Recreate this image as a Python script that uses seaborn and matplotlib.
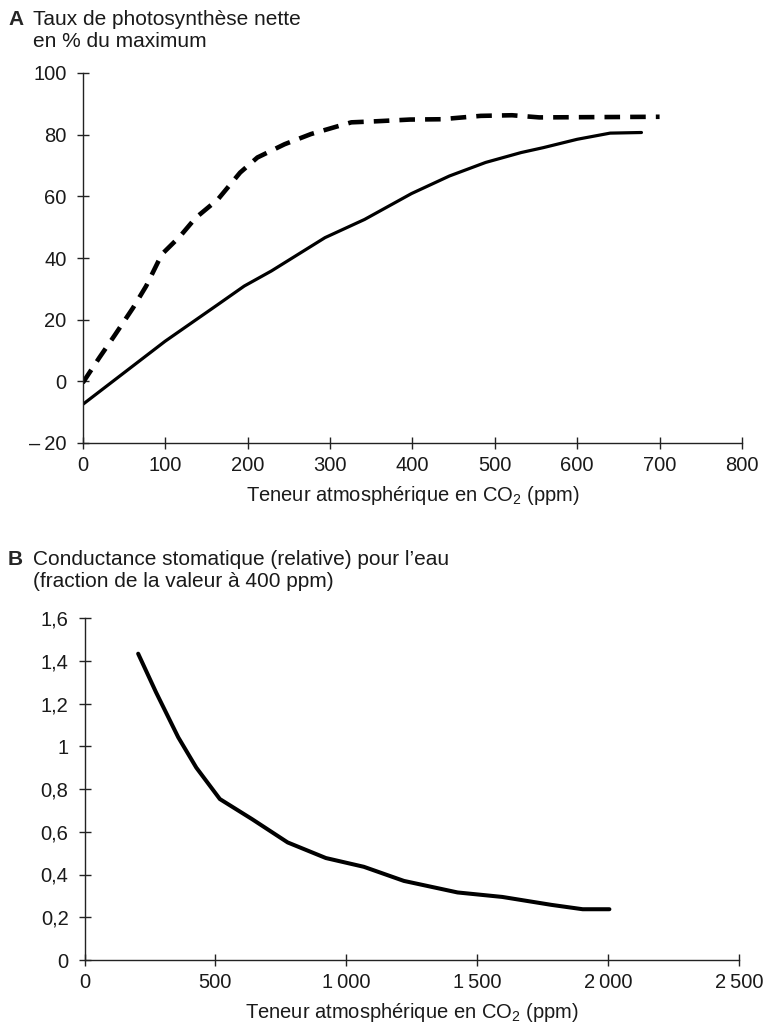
import pandas as pd
import matplotlib
matplotlib.use("Agg")
import matplotlib.pyplot as plt
import seaborn as sns

# panel A : net photosynthesis (% of max) vs CO2 (ppm)
co2_solid = [0, 100, 164, 196, 229, 294, 342, 399, 445, 489, 532, 559, 600, 640, 678]
photo_solid = [-7.5, 13, 24.9, 30.9, 35.8, 46.6, 52.5, 60.9, 66.6, 71, 74.2, 75.8, 78.5, 80.5, 80.7]

co2_dash = [0, 20, 39, 61, 77, 96, 118, 137, 164, 191, 212, 245, 277, 304, 326, 353, 397, 435, 483, 521, 554, 700]
photo_dash = [-0.5, 7.6, 15, 23.8, 30.9, 41.2, 47, 53, 59, 67.7, 72.6, 76.9, 80.2, 82.3, 84, 84.3, 84.9, 85, 86.1, 86.3, 85.6, 85.8]

# panel B : relative stomatal conductance vs CO2 (ppm)
co2_b = [205, 273, 358, 427, 517, 640, 776, 922, 1067, 1220, 1425, 1596, 1783, 1903, 2005]
cond_b = [1.433, 1.253, 1.042, 0.90, 0.753, 0.659, 0.55, 0.477, 0.436, 0.37, 0.316, 0.295, 0.258, 0.2375, 0.2375]

ticks_a_y = [-20, 0, 20, 40, 60, 80, 100]
labels_a_y = ["\u2013\u200920", "0", "20", "40", "60", "80", "100"]
ticks_a_x = [0, 100, 200, 300, 400, 500, 600, 700, 800]
ticks_b_y = [0, 0.2, 0.4, 0.6, 0.8, 1.0, 1.2, 1.4, 1.6]
labels_b_y = ["0", "0,2", "0,4", "0,6", "0,8", "1", "1,2", "1,4", "1,6"]
ticks_b_x = [0, 500, 1000, 1500, 2000, 2500]
labels_b_x = ["0", "500", "1\u2009000", "1\u2009500", "2\u2009000", "2\u2009500"]

sns.set_style("ticks")
plt.rcParams["font.family"] = ["Liberation Sans", "DejaVu Sans"]
plt.rcParams["mathtext.fontset"] = "custom"
plt.rcParams["mathtext.rm"] = "Liberation Sans"
fs = 14.5
xlab = "Teneur atmosphérique en CO$_\\mathregular{2}$ (ppm)"

W, H = 769, 1028
fig = plt.figure(figsize=(W / 100, H / 100), dpi=100)
# axes boxes from the reference pixel positions
ax1 = fig.add_axes([82.7 / W, 1 - 443 / H, (742 - 82.7) / W, (443 - 73) / H])
ax2 = fig.add_axes([84.5 / W, 1 - 960 / H, (739 - 84.5) / W, (960 - 618) / H])

dfa = pd.DataFrame({"co2": co2_solid, "p": photo_solid})
dfd = pd.DataFrame({"co2": co2_dash, "p": photo_dash})
dfb = pd.DataFrame({"co2": co2_b, "g": cond_b})

sns.lineplot(data=dfa, x="co2", y="p", ax=ax1, color="black", linewidth=2.3, sort=False)
sns.lineplot(data=dfd, x="co2", y="p", ax=ax1, color="black", linewidth=3.3, sort=False)
ax1.lines[-1].set_dashes([3.4, 2.2])
ax1.lines[-1].set_dash_capstyle("butt")
sns.lineplot(data=dfb, x="co2", y="g", ax=ax2, color="black", linewidth=2.9, sort=False)

for ax in (ax1, ax2):
    sns.despine(ax=ax)
    for side in ("left", "bottom"):
        ax.spines[side].set_color("#222222")
        ax.spines[side].set_linewidth(1.0)
    ax.tick_params(direction="inout", length=8, width=1.0, colors="#222222",
                   labelcolor="#1a1a1a", labelsize=fs)
    ax.tick_params(axis="x", pad=5.5)
    ax.tick_params(axis="y", pad=7.5)

ax1.set_xlim(0, 800)
ax1.set_ylim(-20, 100)
ax1.set_xticks(ticks_a_x)
ax1.set_yticks(ticks_a_y)
ax1.set_yticklabels(labels_a_y)
ax1.set_xlabel(xlab, fontsize=fs, labelpad=6, color="#1a1a1a")
ax1.set_ylabel("")

ax2.set_xlim(0, 2500)
ax2.set_ylim(0, 1.6)
ax2.set_xticks(ticks_b_x)
ax2.set_xticklabels(labels_b_x)
ax2.set_yticks(ticks_b_y)
ax2.set_yticklabels(labels_b_y)
ax2.set_xlabel(xlab, fontsize=fs, labelpad=6, color="#1a1a1a")
ax2.set_ylabel("")

tfs = 15
fig.text(8 / W, 1 - 25 / H, "A", fontsize=tfs, fontweight="bold", va="baseline")
fig.text(33 / W, 1 - 25 / H, "Taux de photosynthèse nette", fontsize=tfs, va="baseline", color="#1a1a1a")
fig.text(33 / W, 1 - 47 / H, "en % du maximum", fontsize=tfs, va="baseline", color="#1a1a1a")
fig.text(8 / W, 1 - 565 / H, "B", fontsize=tfs, fontweight="bold", va="baseline")
fig.text(33 / W, 1 - 565 / H, "Conductance stomatique (relative) pour l\u2019eau", fontsize=tfs, va="baseline", color="#1a1a1a")
fig.text(33 / W, 1 - 587 / H, "(fraction de la valeur à 400 ppm)", fontsize=tfs, va="baseline", color="#1a1a1a")

fig.savefig("out.png", dpi=100, facecolor="white")
